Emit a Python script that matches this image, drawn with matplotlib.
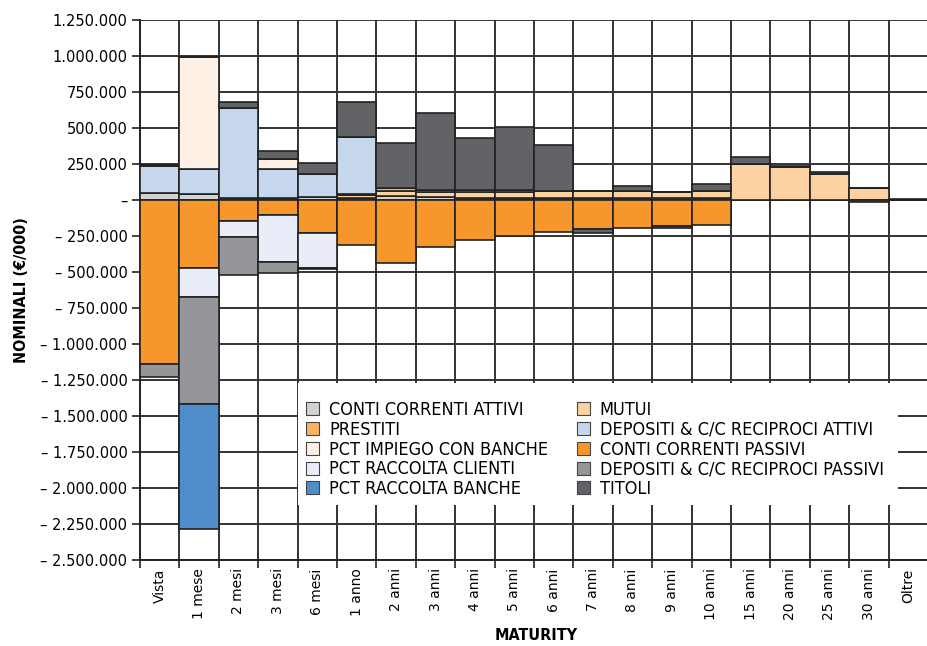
import numpy as np
import matplotlib
matplotlib.use('Agg')
from matplotlib import pyplot as plt
from matplotlib import font_manager as fm
from matplotlib.patches import Patch, Rectangle
from matplotlib.ticker import FuncFormatter

categories = ['Vista', '1 mese', '2 mesi', '3 mesi', '6 mesi', '1 anno', '2 anni', '3 anni',
              '4 anni', '5 anni', '6 anni', '7 anni', '8 anni', '9 anni', '10 anni',
              '15 anni', '20 anni', '25 anni', '30 anni', 'Oltre']

# valori in migliaia (€/000)
conti_correnti_attivi = [50, 40, 12, 15, 23, 15, 30, 18, 16, 16, 16, 15, 15, 12, 12, 0, 0, 0, 0, 0]
mutui = [0, 0, 0, 0, 0, 20, 32, 40, 37, 42, 46, 50, 46, 46, 50, 250, 232, 178, 81, 0]
prestiti = [0, 0, 0, 0, 0, 10, 23, 12, 14, 12, 0, 0, 0, 0, 0, 0, 0, 0, 0, 0]
depositi_attivi = [186, 173, 625, 200, 155, 395, 0, 0, 0, 0, 0, 0, 0, 0, 0, 0, 0, 0, 0, 0]
pct_impiego = [5, 782, 0, 72, 0, 0, 0, 0, 0, 0, 0, 0, 0, 0, 0, 0, 0, 0, 0, 0]
conti_correnti_passivi = [-1139, -474, -144, -104, -227, -313, -435, -329, -278, -250, -225,
                          -204, -192, -181, -174, 0, 0, 0, 0, 0]
pct_raccolta_clienti = [0, -202, -113, -329, -243, 0, 0, 0, 0, 0, 0, 0, 0, 0, 0, 0, 0, 0, 0, 0]
depositi_passivi = [-92, -743, -266, -74, -8, 0, 0, 0, 0, 0, 0, 0, 0, 0, 0, 0, 0, 0, 0, 0]
pct_raccolta_banche = [0, -866, 0, 0, 0, 0, 0, 0, 0, 0, 0, 0, 0, 0, 0, 0, 0, 0, 0, 0]
titoli = [0, 0, 46, 53, 77, 238, 309, 537, 361, 435, 320, -25, 33, -12, 47, 49, 5, 14, -12, 8]

series = [
    ('CONTI CORRENTI ATTIVI', conti_correnti_attivi, '#d2d2d2'),
    ('MUTUI', mutui, '#fdd2a3'),
    ('PRESTITI', prestiti, '#fab262'),
    ('DEPOSITI & C/C RECIPROCI ATTIVI', depositi_attivi, '#c6d6ed'),
    ('PCT IMPIEGO CON BANCHE', pct_impiego, '#fef0e4'),
    ('CONTI CORRENTI PASSIVI', conti_correnti_passivi, '#f7962a'),
    ('PCT RACCOLTA CLIENTI', pct_raccolta_clienti, '#e8edf8'),
    ('DEPOSITI & C/C RECIPROCI PASSIVI', depositi_passivi, '#959699'),
    ('PCT RACCOLTA BANCHE', pct_raccolta_banche, '#4f8dcb'),
    ('TITOLI', titoli, '#626366'),
]


# cerca un font stretto (condensed / narrow) se installato
def find_narrow(bold=False):
    best = None
    for f in fm.fontManager.ttflist:
        fn = f.fname.lower()
        narrow = ('condensed' in fn or 'narrow' in fn or
                  str(f.stretch) in ('condensed', 'semi-condensed', 'extra-condensed'))
        if not narrow:
            continue
        isbold = (f.weight in ('bold', 700, 'semibold', 600)) or 'bold' in fn
        if 'italic' in fn or 'oblique' in fn:
            continue
        if isbold == bold:
            if best is None or 'semi' in best.lower():
                best = f.fname
    return best

narrow_reg = find_narrow(False)
narrow_bold = find_narrow(True)
if narrow_reg:
    leg_prop = fm.FontProperties(fname=narrow_reg, size=13)
else:
    leg_prop = fm.FontProperties(family='Liberation Sans', size=11, stretch='condensed')
if narrow_bold:
    lab_prop = fm.FontProperties(fname=narrow_bold, size=11.5)
else:
    lab_prop = fm.FontProperties(family='Liberation Sans', weight='bold', size=11)

fig = plt.figure(figsize=(9.28, 6.46), dpi=100)
ax = fig.add_axes([140/928, 86/646, 788/928, 540/646])

x = np.arange(len(categories))
pos = np.zeros(len(categories))
neg = np.zeros(len(categories))
colors = {}
for name, vals, col in series:
    v = np.array(vals, dtype=float) * 1000
    bottom = np.where(v >= 0, pos, neg)
    ax.bar(x, v, width=1.0, bottom=bottom, color=col, edgecolor='#222222', linewidth=1.2, zorder=3)
    pos = pos + np.where(v > 0, v, 0)
    neg = neg + np.where(v < 0, v, 0)
    colors[name] = col

ax.set_xlim(-0.5, 19.36)
ax.set_ylim(-2500000, 1250000)

yt = np.arange(-2500000, 1250001, 250000)
ax.set_yticks(yt)

def fmt(val, p):
    if val == 0:
        return '\u2013'
    s = '{:,.0f}'.format(abs(val)).replace(',', '.')
    return s if val > 0 else '\u2013 ' + s

ax.yaxis.set_major_formatter(FuncFormatter(fmt))
ax.set_xticks(x)
ax.set_xticklabels(categories, rotation=90)
ax.set_xticks(np.arange(-0.5, 20, 1), minor=True)
ax.tick_params(axis='x', which='major', length=0, labelsize=10, pad=6)
ax.tick_params(axis='x', which='minor', length=6, width=1.2, color='#222222')
ax.tick_params(axis='y', length=6, width=1.2, color='#222222', labelsize=10.5, pad=3)

ax.set_axisbelow(True)
ax.grid(axis='y', which='major', color='#333333', linewidth=1.4, zorder=0)
ax.grid(axis='x', which='minor', color='#333333', linewidth=1.4, zorder=0)

for s in ['top', 'right']:
    ax.spines[s].set_visible(False)
for s in ['left', 'bottom']:
    ax.spines[s].set_linewidth(1.4)
    ax.spines[s].set_color('#222222')

fig.text(22/928, 1 - 290/646, 'NOMINALI (€/000)', rotation=90, ha='center', va='center',
         fontproperties=lab_prop)
fig.text(536/928, 1 - 636/646, 'MATURITY', ha='center', va='center', fontproperties=lab_prop)

# fondo bianco della legenda
ax.add_patch(Rectangle(((298-140)/788, (560-505)/540), (898-298)/788, (505-383)/540,
                       transform=ax.transAxes, facecolor='white', edgecolor='none', zorder=4))

order = ['CONTI CORRENTI ATTIVI', 'PRESTITI', 'PCT IMPIEGO CON BANCHE', 'PCT RACCOLTA CLIENTI',
         'PCT RACCOLTA BANCHE', 'MUTUI', 'DEPOSITI & C/C RECIPROCI ATTIVI',
         'CONTI CORRENTI PASSIVI', 'DEPOSITI & C/C RECIPROCI PASSIVI', 'TITOLI']
handles = [Patch(facecolor=colors[n], edgecolor='#444444', linewidth=0.8, label=n) for n in order]
leg = ax.legend(handles=handles, ncol=2, loc='upper left',
                bbox_to_anchor=((306-140)/788, (560-401)/540), frameon=False,
                prop=leg_prop,
                handlelength=0.72, handleheight=0.72, handletextpad=0.55,
                columnspacing=1.6, labelspacing=0.1, borderaxespad=0, borderpad=0)
leg.set_zorder(5)

plt.savefig('out.png', dpi=100)
